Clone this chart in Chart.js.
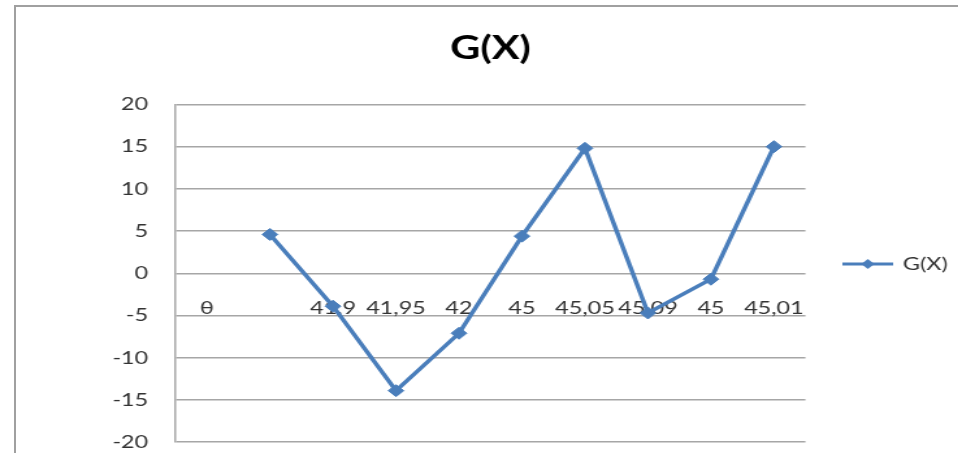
<!DOCTYPE html>
<html>
<head>
<meta charset="utf-8">
<script src="https://cdn.jsdelivr.net/npm/chart.js@4.4.1/dist/chart.umd.min.js"></script>
<style>
    html, body { margin: 0; padding: 0; background: #fff; overflow: hidden; }
    #wrap { position: relative; width: 958px; height: 453px; }
    #frame { position: absolute; left: 14px; top: 5px; width: 1000px; height: 500px; border: 2px solid #a0a0a0; box-sizing: border-box; }
    /* the reference is stretched sideways, so the chart is drawn narrow and scaled */
    #canvas { position: absolute; left: 0; top: 0; transform-origin: 0 0; transform: scaleX(1.3); }
</style>
</head>
<body>
<div id="wrap">
    <div id="frame"></div>
    <canvas id="canvas" width="737" height="453"></canvas>
</div>
<script>
var categories = ['θ', '', '41,9', '41,95', '42', '45', '45,05', '45,09', '45', '45,01'];
var gValues = [null, 4.6, -3.9, -13.9, -7.1, 4.4, 14.8, -4.7, -0.7, 15.0];
var yTicks = [-20, -15, -10, -5, 0, 5, 10, 15, 20];

document.addEventListener('DOMContentLoaded', function () {

    var blue = '#4a7ebb';
    var grid = '#a6a6a6';

    // legend symbol: a line with a diamond in the middle
    var icon = document.createElement('canvas');
    icon.width = 39;
    icon.height = 14;
    var ic = icon.getContext('2d');
    ic.strokeStyle = blue;
    ic.lineWidth = 3;
    ic.beginPath();
    ic.moveTo(0, 7);
    ic.lineTo(39, 7);
    ic.stroke();
    ic.fillStyle = blue;
    ic.beginPath();
    ic.moveTo(19.5, 2);
    ic.lineTo(24.5, 7);
    ic.lineTo(19.5, 12);
    ic.lineTo(14.5, 7);
    ic.closePath();
    ic.fill();

    var canvas = document.getElementById('canvas');

    var config = {
        type: 'line',
        data: {
            labels: categories,
            datasets: [
                {
                    label: 'G(X)',
                    data: gValues,
                    borderColor: blue,
                    backgroundColor: blue,
                    borderWidth: 3.5,
                    pointStyle: 'rectRot',
                    pointRadius: 6,
                    pointBackgroundColor: blue,
                    pointBorderColor: blue,
                    pointBorderWidth: 1,
                    tension: 0,
                    fill: false,
                }
            ]
        },
        options: {
            responsive: false,
            animation: false,
            layout: {
                padding: { top: 29, left: 75, right: -2, bottom: -46 }
            },
            plugins: {
                title: {
                    display: true,
                    text: 'G(X)',
                    fullSize: false,
                    color: '#000',
                    font: { family: 'Lato', size: 32, weight: 'bold' },
                    padding: { top: 0, bottom: 37 },
                },
                legend: {
                    position: 'right',
                    fullSize: true,
                    labels: {
                        usePointStyle: true,
                        pointStyle: icon,
                        pointStyleWidth: 36,
                        padding: 30,
                        color: '#333',
                        font: { family: 'Lato', size: 18 },
                    }
                },
                tooltip: { enabled: false },
            },
            scales: {
                x: {
                    position: { y: 0 },
                    offset: true,
                    grid: { display: false, drawTicks: false },
                    border: { display: false },
                    afterFit: function (scale) { scale.height = 0; },
                    ticks: {
                        autoSkip: false,
                        maxRotation: 0,
                        padding: 24,
                        color: '#333',
                        font: { family: 'Lato', size: 18 },
                    }
                },
                y: {
                    min: yTicks[0],
                    max: yTicks[yTicks.length - 1],
                    grid: { color: grid, lineWidth: 1.5, drawTicks: true, tickLength: 21, tickColor: 'rgba(0,0,0,0)' },
                    border: { color: grid, width: 1.5 },
                    afterFit: function (scale) { scale.width = 60; },
                    ticks: {
                        stepSize: yTicks[1] - yTicks[0],
                        padding: 0,
                        color: '#333',
                        font: { family: 'Lato', size: 18 },
                    }
                }
            }
        }
    };

    window.chart = new Chart(canvas, config);
});
</script>
</body>
</html>
